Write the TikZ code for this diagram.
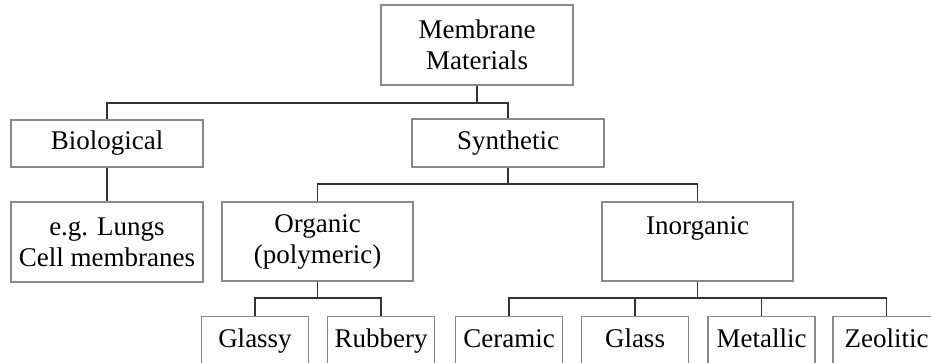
\documentclass[tikz,border=0pt]{standalone}
\usepackage{fontspec}
\setmainfont{Liberation Serif}
\definecolor{boxgray}{HTML}{8A8A8A}
\definecolor{linkgray}{HTML}{333333}
\begin{document}
\begin{tikzpicture}[x=1pt,y=-1pt,
  box/.style={draw=boxgray, line width=1.3pt, fill=white, align=center,
    inner sep=0pt, font=\fontsize{27}{31}\selectfont},
  leaf/.style={box, anchor=north, minimum width=107pt,
    text height=31pt, text depth=50pt},
  link/.style={draw=linkgray, line width=1.8pt}]
\useasboundingbox (0,0) rectangle (931,362);
\clip (0,0) rectangle (931,362);

% levels of the tree
\node[box, minimum width=192pt, minimum height=80pt] (mem) at (477,45) {Membrane\\Materials};
\node[box, minimum width=192pt, minimum height=47pt] (bio) at (107,143.5) {Biological};
\node[box, minimum width=192pt, minimum height=48pt] (syn) at (508,143) {Synthetic};
\node[box, minimum width=192pt, minimum height=80pt] (lungs) at (107,242) {e.g. Lungs\\Cell membranes};
\node[box, minimum width=191pt, minimum height=79pt] (org) at (317.5,241.5) {Organic\\(polymeric)};
\node[box, minimum width=191pt, minimum height=79pt] (inorg) at (697.5,241.5) {Inorganic\\\mbox{}};

\node[leaf] (glassy)   at (255,316)   {Glassy};
\node[leaf] (rubbery)  at (381,316)   {Rubbery};
\node[leaf] (ceramic)  at (509,316)   {Ceramic};
\node[leaf] (glass)    at (635,316)   {Glass};
\node[leaf] (metallic) at (761.5,316) {Metallic};
\node[leaf] (zeolitic) at (886.5,316) {Zeolitic};

% horizontal buses
\coordinate (bus1) at (0,103);
\coordinate (bus2) at (0,184);
\coordinate (bus3) at (0,298);

% connectors
\draw[link] (mem.south) -- (mem.south |- bus1);
\draw[link] (bio.north) -- (bio.north |- bus1) -- (syn.north |- bus1) -- (syn.north);
\draw[link] (bio.south) -- (lungs.north);

\draw[link] (syn.south) -- (syn.south |- bus2);
\draw[link] (org.north) -- (org.north |- bus2) -- (inorg.north |- bus2) -- (inorg.north);

\draw[link] (org.south) -- (org.south |- bus3);
\draw[link] (glassy.north) -- (glassy.north |- bus3) -- (rubbery.north |- bus3) -- (rubbery.north);

\draw[link] (inorg.south) -- (inorg.south |- bus3);
\draw[link] (ceramic.north) -- (ceramic.north |- bus3) -- (zeolitic.north |- bus3) -- (zeolitic.north);
\draw[link] (glass.north) -- (glass.north |- bus3);
\draw[link] (metallic.north) -- (metallic.north |- bus3);
\end{tikzpicture}
\end{document}
